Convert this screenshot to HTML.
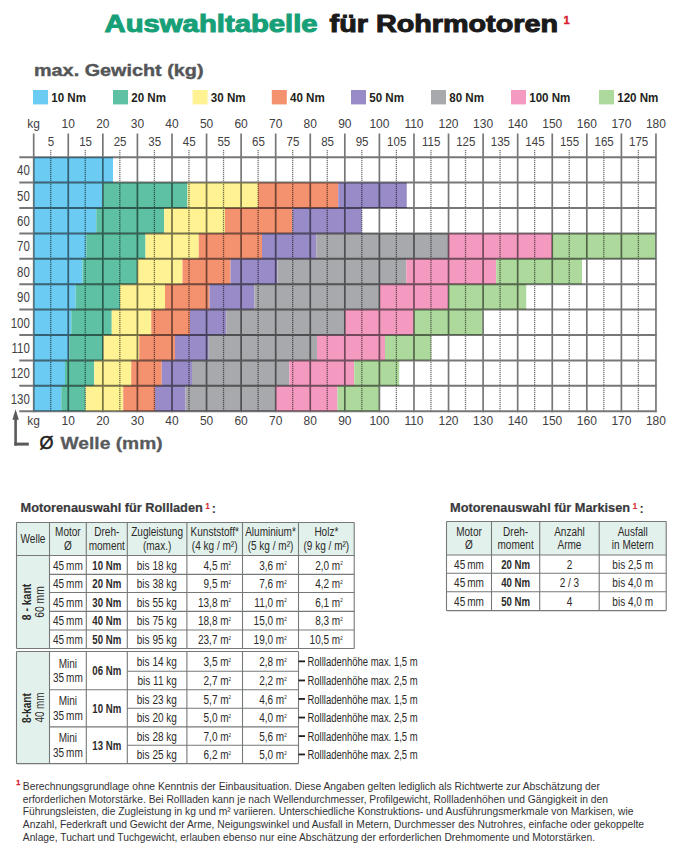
<!DOCTYPE html>
<html><head><meta charset="utf-8"><style>
html,body{margin:0;padding:0;background:#fff;}
svg{display:block;font-family:"Liberation Sans",sans-serif;}
</style></head><body>
<svg width="680" height="867" viewBox="0 0 680 867">
<rect width="680" height="867" fill="#fff"/>
<text x="104.60" y="31.70" font-size="23.59" textLength="212.99" lengthAdjust="spacingAndGlyphs" font-weight="bold" fill="#17a078" stroke="#17a078" stroke-width="1.0">Auswahltabelle</text>
<text x="329.60" y="31.70" font-size="23.59" textLength="228.40" lengthAdjust="spacingAndGlyphs" font-weight="bold" fill="#1a1a1a" stroke="#1a1a1a" stroke-width="1.0">für Rohrmotoren</text>
<text x="563.59" y="23.70" font-size="11.20" textLength="6.23" lengthAdjust="spacingAndGlyphs" font-weight="bold" fill="#d6202f" stroke="#d6202f" stroke-width="0.4">1</text>
<text x="34.00" y="76.00" font-size="17.10" textLength="169.49" lengthAdjust="spacingAndGlyphs" font-weight="bold" fill="#545557" stroke="#545557" stroke-width="0.4">max. Gewicht (kg)</text>
<rect x="33.00" y="90.00" width="15.00" height="14.40" fill="#6ccbf2"/>
<text x="51.20" y="101.90" font-size="12.60" textLength="34.79" lengthAdjust="spacingAndGlyphs" font-weight="bold" fill="#231f20">10 Nm</text>
<rect x="113.00" y="90.00" width="15.00" height="14.40" fill="#5ec1a3"/>
<text x="131.20" y="101.90" font-size="12.60" textLength="34.79" lengthAdjust="spacingAndGlyphs" font-weight="bold" fill="#231f20">20 Nm</text>
<rect x="192.60" y="90.00" width="15.00" height="14.40" fill="#fef292"/>
<text x="210.80" y="101.90" font-size="12.60" textLength="34.79" lengthAdjust="spacingAndGlyphs" font-weight="bold" fill="#231f20">30 Nm</text>
<rect x="271.80" y="90.00" width="15.00" height="14.40" fill="#f4916f"/>
<text x="290.00" y="101.90" font-size="12.60" textLength="34.79" lengthAdjust="spacingAndGlyphs" font-weight="bold" fill="#231f20">40 Nm</text>
<rect x="351.00" y="90.00" width="15.00" height="14.40" fill="#988bc7"/>
<text x="369.20" y="101.90" font-size="12.60" textLength="34.79" lengthAdjust="spacingAndGlyphs" font-weight="bold" fill="#231f20">50 Nm</text>
<rect x="431.00" y="90.00" width="15.00" height="14.40" fill="#a8a9ac"/>
<text x="449.20" y="101.90" font-size="12.60" textLength="34.79" lengthAdjust="spacingAndGlyphs" font-weight="bold" fill="#231f20">80 Nm</text>
<rect x="511.00" y="90.00" width="15.00" height="14.40" fill="#f49ac0"/>
<text x="529.20" y="101.90" font-size="12.60" textLength="41.24" lengthAdjust="spacingAndGlyphs" font-weight="bold" fill="#231f20">100 Nm</text>
<rect x="599.00" y="90.00" width="15.00" height="14.40" fill="#aed99d"/>
<text x="617.20" y="101.90" font-size="12.60" textLength="41.24" lengthAdjust="spacingAndGlyphs" font-weight="bold" fill="#231f20">120 Nm</text>
<rect x="33.70" y="157.20" width="79.30" height="25.40" fill="#6ccbf2"/>
<rect x="33.70" y="182.60" width="68.80" height="25.40" fill="#6ccbf2"/>
<rect x="102.50" y="182.60" width="85.00" height="25.40" fill="#5ec1a3"/>
<rect x="187.50" y="182.60" width="70.50" height="25.40" fill="#fef292"/>
<rect x="258.00" y="182.60" width="80.25" height="25.40" fill="#f4916f"/>
<rect x="338.25" y="182.60" width="68.50" height="25.40" fill="#988bc7"/>
<rect x="33.70" y="208.00" width="62.55" height="25.40" fill="#6ccbf2"/>
<rect x="96.25" y="208.00" width="68.00" height="25.40" fill="#5ec1a3"/>
<rect x="164.25" y="208.00" width="60.75" height="25.40" fill="#fef292"/>
<rect x="225.00" y="208.00" width="67.50" height="25.40" fill="#f4916f"/>
<rect x="292.50" y="208.00" width="69.25" height="25.40" fill="#988bc7"/>
<rect x="33.70" y="233.40" width="52.55" height="25.40" fill="#6ccbf2"/>
<rect x="86.25" y="233.40" width="59.25" height="25.40" fill="#5ec1a3"/>
<rect x="145.50" y="233.40" width="53.25" height="25.40" fill="#fef292"/>
<rect x="198.75" y="233.40" width="63.25" height="25.40" fill="#f4916f"/>
<rect x="262.00" y="233.40" width="54.25" height="25.40" fill="#988bc7"/>
<rect x="316.25" y="233.40" width="131.75" height="25.40" fill="#a8a9ac"/>
<rect x="448.00" y="233.40" width="104.00" height="25.40" fill="#f49ac0"/>
<rect x="552.00" y="233.40" width="103.50" height="25.40" fill="#aed99d"/>
<rect x="33.70" y="258.80" width="48.80" height="25.40" fill="#6ccbf2"/>
<rect x="82.50" y="258.80" width="55.00" height="25.40" fill="#5ec1a3"/>
<rect x="137.50" y="258.80" width="45.00" height="25.40" fill="#fef292"/>
<rect x="182.50" y="258.80" width="48.00" height="25.40" fill="#f4916f"/>
<rect x="230.50" y="258.80" width="47.00" height="25.40" fill="#988bc7"/>
<rect x="277.50" y="258.80" width="128.75" height="25.40" fill="#a8a9ac"/>
<rect x="406.25" y="258.80" width="90.00" height="25.40" fill="#f49ac0"/>
<rect x="496.25" y="258.80" width="85.75" height="25.40" fill="#aed99d"/>
<rect x="33.70" y="284.20" width="42.05" height="25.40" fill="#6ccbf2"/>
<rect x="75.75" y="284.20" width="44.25" height="25.40" fill="#5ec1a3"/>
<rect x="120.00" y="284.20" width="45.00" height="25.40" fill="#fef292"/>
<rect x="165.00" y="284.20" width="44.50" height="25.40" fill="#f4916f"/>
<rect x="209.50" y="284.20" width="45.00" height="25.40" fill="#988bc7"/>
<rect x="254.50" y="284.20" width="125.50" height="25.40" fill="#a8a9ac"/>
<rect x="380.00" y="284.20" width="68.00" height="25.40" fill="#f49ac0"/>
<rect x="448.00" y="284.20" width="78.25" height="25.40" fill="#aed99d"/>
<rect x="33.70" y="309.60" width="37.55" height="25.40" fill="#6ccbf2"/>
<rect x="71.25" y="309.60" width="40.50" height="25.40" fill="#5ec1a3"/>
<rect x="111.75" y="309.60" width="39.50" height="25.40" fill="#fef292"/>
<rect x="151.25" y="309.60" width="38.75" height="25.40" fill="#f4916f"/>
<rect x="190.00" y="309.60" width="36.25" height="25.40" fill="#988bc7"/>
<rect x="226.25" y="309.60" width="118.75" height="25.40" fill="#a8a9ac"/>
<rect x="345.00" y="309.60" width="68.75" height="25.40" fill="#f49ac0"/>
<rect x="413.75" y="309.60" width="68.75" height="25.40" fill="#aed99d"/>
<rect x="33.70" y="335.00" width="35.55" height="25.40" fill="#6ccbf2"/>
<rect x="69.25" y="335.00" width="34.00" height="25.40" fill="#5ec1a3"/>
<rect x="103.25" y="335.00" width="36.00" height="25.40" fill="#fef292"/>
<rect x="139.25" y="335.00" width="35.75" height="25.40" fill="#f4916f"/>
<rect x="175.00" y="335.00" width="33.75" height="25.40" fill="#988bc7"/>
<rect x="208.75" y="335.00" width="108.25" height="25.40" fill="#a8a9ac"/>
<rect x="317.00" y="335.00" width="68.00" height="25.40" fill="#f49ac0"/>
<rect x="385.00" y="335.00" width="46.25" height="25.40" fill="#aed99d"/>
<rect x="33.70" y="360.40" width="31.30" height="25.40" fill="#6ccbf2"/>
<rect x="65.00" y="360.40" width="29.25" height="25.40" fill="#5ec1a3"/>
<rect x="94.25" y="360.40" width="37.00" height="25.40" fill="#fef292"/>
<rect x="131.25" y="360.40" width="30.50" height="25.40" fill="#f4916f"/>
<rect x="161.75" y="360.40" width="30.25" height="25.40" fill="#988bc7"/>
<rect x="192.00" y="360.40" width="97.25" height="25.40" fill="#a8a9ac"/>
<rect x="289.25" y="360.40" width="65.00" height="25.40" fill="#f49ac0"/>
<rect x="354.25" y="360.40" width="45.00" height="25.40" fill="#aed99d"/>
<rect x="33.70" y="385.80" width="27.55" height="25.40" fill="#6ccbf2"/>
<rect x="61.25" y="385.80" width="24.25" height="25.40" fill="#5ec1a3"/>
<rect x="85.50" y="385.80" width="37.75" height="25.40" fill="#fef292"/>
<rect x="123.25" y="385.80" width="31.75" height="25.40" fill="#f4916f"/>
<rect x="155.00" y="385.80" width="30.50" height="25.40" fill="#988bc7"/>
<rect x="185.50" y="385.80" width="90.25" height="25.40" fill="#a8a9ac"/>
<rect x="275.75" y="385.80" width="61.75" height="25.40" fill="#f49ac0"/>
<rect x="337.50" y="385.80" width="41.75" height="25.40" fill="#aed99d"/>
<g opacity="0.53">
<line x1="50.69" y1="150.00" x2="50.69" y2="411.20" stroke="#000" stroke-width="1.3" stroke-dasharray="1.2 0.8"/>
<line x1="85.26" y1="150.00" x2="85.26" y2="411.20" stroke="#000" stroke-width="1.3" stroke-dasharray="1.2 0.8"/>
<line x1="119.83" y1="150.00" x2="119.83" y2="411.20" stroke="#000" stroke-width="1.3" stroke-dasharray="1.2 0.8"/>
<line x1="154.39" y1="150.00" x2="154.39" y2="411.20" stroke="#000" stroke-width="1.3" stroke-dasharray="1.2 0.8"/>
<line x1="188.96" y1="150.00" x2="188.96" y2="411.20" stroke="#000" stroke-width="1.3" stroke-dasharray="1.2 0.8"/>
<line x1="223.53" y1="150.00" x2="223.53" y2="411.20" stroke="#000" stroke-width="1.3" stroke-dasharray="1.2 0.8"/>
<line x1="258.11" y1="150.00" x2="258.11" y2="411.20" stroke="#000" stroke-width="1.3" stroke-dasharray="1.2 0.8"/>
<line x1="292.67" y1="150.00" x2="292.67" y2="411.20" stroke="#000" stroke-width="1.3" stroke-dasharray="1.2 0.8"/>
<line x1="327.25" y1="150.00" x2="327.25" y2="411.20" stroke="#000" stroke-width="1.3" stroke-dasharray="1.2 0.8"/>
<line x1="361.81" y1="150.00" x2="361.81" y2="411.20" stroke="#000" stroke-width="1.3" stroke-dasharray="1.2 0.8"/>
<line x1="396.38" y1="150.00" x2="396.38" y2="411.20" stroke="#000" stroke-width="1.3" stroke-dasharray="1.2 0.8"/>
<line x1="430.95" y1="150.00" x2="430.95" y2="411.20" stroke="#000" stroke-width="1.3" stroke-dasharray="1.2 0.8"/>
<line x1="465.52" y1="150.00" x2="465.52" y2="411.20" stroke="#000" stroke-width="1.3" stroke-dasharray="1.2 0.8"/>
<line x1="500.09" y1="150.00" x2="500.09" y2="411.20" stroke="#000" stroke-width="1.3" stroke-dasharray="1.2 0.8"/>
<line x1="534.67" y1="150.00" x2="534.67" y2="411.20" stroke="#000" stroke-width="1.3" stroke-dasharray="1.2 0.8"/>
<line x1="569.24" y1="150.00" x2="569.24" y2="411.20" stroke="#000" stroke-width="1.3" stroke-dasharray="1.2 0.8"/>
<line x1="603.81" y1="150.00" x2="603.81" y2="411.20" stroke="#000" stroke-width="1.3" stroke-dasharray="1.2 0.8"/>
<line x1="638.38" y1="150.00" x2="638.38" y2="411.20" stroke="#000" stroke-width="1.3" stroke-dasharray="1.2 0.8"/>
<line x1="19.30" y1="157.20" x2="656.50" y2="157.20" stroke="#000" stroke-width="2.0"/>
<line x1="19.30" y1="182.60" x2="656.50" y2="182.60" stroke="#000" stroke-width="2.0"/>
<line x1="19.30" y1="208.00" x2="656.50" y2="208.00" stroke="#000" stroke-width="2.0"/>
<line x1="19.30" y1="233.40" x2="656.50" y2="233.40" stroke="#000" stroke-width="2.0"/>
<line x1="19.30" y1="258.80" x2="656.50" y2="258.80" stroke="#000" stroke-width="2.0"/>
<line x1="19.30" y1="284.20" x2="656.50" y2="284.20" stroke="#000" stroke-width="2.0"/>
<line x1="19.30" y1="309.60" x2="656.50" y2="309.60" stroke="#000" stroke-width="2.0"/>
<line x1="19.30" y1="335.00" x2="656.50" y2="335.00" stroke="#000" stroke-width="2.0"/>
<line x1="19.30" y1="360.40" x2="656.50" y2="360.40" stroke="#000" stroke-width="2.0"/>
<line x1="19.30" y1="385.80" x2="656.50" y2="385.80" stroke="#000" stroke-width="2.0"/>
<line x1="19.30" y1="411.20" x2="656.50" y2="411.20" stroke="#000" stroke-width="2.0"/>
<line x1="33.70" y1="133.50" x2="33.70" y2="412.20" stroke="#000" stroke-width="1.7"/>
<line x1="68.27" y1="133.50" x2="68.27" y2="412.20" stroke="#000" stroke-width="1.7"/>
<line x1="102.84" y1="133.50" x2="102.84" y2="412.20" stroke="#000" stroke-width="1.7"/>
<line x1="137.41" y1="133.50" x2="137.41" y2="412.20" stroke="#000" stroke-width="1.7"/>
<line x1="171.98" y1="133.50" x2="171.98" y2="412.20" stroke="#000" stroke-width="1.7"/>
<line x1="206.55" y1="133.50" x2="206.55" y2="412.20" stroke="#000" stroke-width="1.7"/>
<line x1="241.12" y1="133.50" x2="241.12" y2="412.20" stroke="#000" stroke-width="1.7"/>
<line x1="275.69" y1="133.50" x2="275.69" y2="412.20" stroke="#000" stroke-width="1.7"/>
<line x1="310.26" y1="133.50" x2="310.26" y2="412.20" stroke="#000" stroke-width="1.7"/>
<line x1="344.83" y1="133.50" x2="344.83" y2="412.20" stroke="#000" stroke-width="1.7"/>
<line x1="379.40" y1="133.50" x2="379.40" y2="412.20" stroke="#000" stroke-width="1.7"/>
<line x1="413.97" y1="133.50" x2="413.97" y2="412.20" stroke="#000" stroke-width="1.7"/>
<line x1="448.54" y1="133.50" x2="448.54" y2="412.20" stroke="#000" stroke-width="1.7"/>
<line x1="483.11" y1="133.50" x2="483.11" y2="412.20" stroke="#000" stroke-width="1.7"/>
<line x1="517.68" y1="133.50" x2="517.68" y2="412.20" stroke="#000" stroke-width="1.7"/>
<line x1="552.25" y1="133.50" x2="552.25" y2="412.20" stroke="#000" stroke-width="1.7"/>
<line x1="586.82" y1="133.50" x2="586.82" y2="412.20" stroke="#000" stroke-width="1.7"/>
<line x1="621.39" y1="133.50" x2="621.39" y2="412.20" stroke="#000" stroke-width="1.7"/>
<line x1="655.96" y1="133.50" x2="655.96" y2="412.20" stroke="#000" stroke-width="1.7"/>
</g>
<text x="27.37" y="128.00" font-size="12.90" textLength="12.67" lengthAdjust="spacingAndGlyphs" fill="#414042">kg</text>
<text x="27.37" y="425.00" font-size="12.90" textLength="12.67" lengthAdjust="spacingAndGlyphs" fill="#414042">kg</text>
<text x="61.60" y="128.00" font-size="12.90" textLength="13.34" lengthAdjust="spacingAndGlyphs" fill="#414042">10</text>
<text x="61.60" y="425.00" font-size="12.90" textLength="13.34" lengthAdjust="spacingAndGlyphs" fill="#414042">10</text>
<text x="96.17" y="128.00" font-size="12.90" textLength="13.34" lengthAdjust="spacingAndGlyphs" fill="#414042">20</text>
<text x="96.17" y="425.00" font-size="12.90" textLength="13.34" lengthAdjust="spacingAndGlyphs" fill="#414042">20</text>
<text x="130.74" y="128.00" font-size="12.90" textLength="13.34" lengthAdjust="spacingAndGlyphs" fill="#414042">30</text>
<text x="130.74" y="425.00" font-size="12.90" textLength="13.34" lengthAdjust="spacingAndGlyphs" fill="#414042">30</text>
<text x="165.31" y="128.00" font-size="12.90" textLength="13.34" lengthAdjust="spacingAndGlyphs" fill="#414042">40</text>
<text x="165.31" y="425.00" font-size="12.90" textLength="13.34" lengthAdjust="spacingAndGlyphs" fill="#414042">40</text>
<text x="199.88" y="128.00" font-size="12.90" textLength="13.34" lengthAdjust="spacingAndGlyphs" fill="#414042">50</text>
<text x="199.88" y="425.00" font-size="12.90" textLength="13.34" lengthAdjust="spacingAndGlyphs" fill="#414042">50</text>
<text x="234.45" y="128.00" font-size="12.90" textLength="13.34" lengthAdjust="spacingAndGlyphs" fill="#414042">60</text>
<text x="234.45" y="425.00" font-size="12.90" textLength="13.34" lengthAdjust="spacingAndGlyphs" fill="#414042">60</text>
<text x="269.02" y="128.00" font-size="12.90" textLength="13.34" lengthAdjust="spacingAndGlyphs" fill="#414042">70</text>
<text x="269.02" y="425.00" font-size="12.90" textLength="13.34" lengthAdjust="spacingAndGlyphs" fill="#414042">70</text>
<text x="303.59" y="128.00" font-size="12.90" textLength="13.34" lengthAdjust="spacingAndGlyphs" fill="#414042">80</text>
<text x="303.59" y="425.00" font-size="12.90" textLength="13.34" lengthAdjust="spacingAndGlyphs" fill="#414042">80</text>
<text x="338.16" y="128.00" font-size="12.90" textLength="13.34" lengthAdjust="spacingAndGlyphs" fill="#414042">90</text>
<text x="338.16" y="425.00" font-size="12.90" textLength="13.34" lengthAdjust="spacingAndGlyphs" fill="#414042">90</text>
<text x="369.39" y="128.00" font-size="12.90" textLength="20.02" lengthAdjust="spacingAndGlyphs" fill="#414042">100</text>
<text x="369.39" y="425.00" font-size="12.90" textLength="20.02" lengthAdjust="spacingAndGlyphs" fill="#414042">100</text>
<text x="404.41" y="128.00" font-size="12.90" textLength="19.13" lengthAdjust="spacingAndGlyphs" fill="#414042">110</text>
<text x="404.41" y="425.00" font-size="12.90" textLength="19.13" lengthAdjust="spacingAndGlyphs" fill="#414042">110</text>
<text x="438.53" y="128.00" font-size="12.90" textLength="20.02" lengthAdjust="spacingAndGlyphs" fill="#414042">120</text>
<text x="438.53" y="425.00" font-size="12.90" textLength="20.02" lengthAdjust="spacingAndGlyphs" fill="#414042">120</text>
<text x="473.10" y="128.00" font-size="12.90" textLength="20.02" lengthAdjust="spacingAndGlyphs" fill="#414042">130</text>
<text x="473.10" y="425.00" font-size="12.90" textLength="20.02" lengthAdjust="spacingAndGlyphs" fill="#414042">130</text>
<text x="507.67" y="128.00" font-size="12.90" textLength="20.02" lengthAdjust="spacingAndGlyphs" fill="#414042">140</text>
<text x="507.67" y="425.00" font-size="12.90" textLength="20.02" lengthAdjust="spacingAndGlyphs" fill="#414042">140</text>
<text x="542.24" y="128.00" font-size="12.90" textLength="20.02" lengthAdjust="spacingAndGlyphs" fill="#414042">150</text>
<text x="542.24" y="425.00" font-size="12.90" textLength="20.02" lengthAdjust="spacingAndGlyphs" fill="#414042">150</text>
<text x="576.81" y="128.00" font-size="12.90" textLength="20.02" lengthAdjust="spacingAndGlyphs" fill="#414042">160</text>
<text x="576.81" y="425.00" font-size="12.90" textLength="20.02" lengthAdjust="spacingAndGlyphs" fill="#414042">160</text>
<text x="611.38" y="128.00" font-size="12.90" textLength="20.02" lengthAdjust="spacingAndGlyphs" fill="#414042">170</text>
<text x="611.38" y="425.00" font-size="12.90" textLength="20.02" lengthAdjust="spacingAndGlyphs" fill="#414042">170</text>
<text x="645.95" y="128.00" font-size="12.90" textLength="20.02" lengthAdjust="spacingAndGlyphs" fill="#414042">180</text>
<text x="645.95" y="425.00" font-size="12.90" textLength="20.02" lengthAdjust="spacingAndGlyphs" fill="#414042">180</text>
<text x="47.78" y="145.70" font-size="12.40" textLength="6.41" lengthAdjust="spacingAndGlyphs" fill="#414042">5</text>
<text x="79.14" y="145.70" font-size="12.40" textLength="12.83" lengthAdjust="spacingAndGlyphs" fill="#414042">15</text>
<text x="113.71" y="145.70" font-size="12.40" textLength="12.83" lengthAdjust="spacingAndGlyphs" fill="#414042">25</text>
<text x="148.28" y="145.70" font-size="12.40" textLength="12.83" lengthAdjust="spacingAndGlyphs" fill="#414042">35</text>
<text x="182.85" y="145.70" font-size="12.40" textLength="12.83" lengthAdjust="spacingAndGlyphs" fill="#414042">45</text>
<text x="217.42" y="145.70" font-size="12.40" textLength="12.83" lengthAdjust="spacingAndGlyphs" fill="#414042">55</text>
<text x="251.99" y="145.70" font-size="12.40" textLength="12.83" lengthAdjust="spacingAndGlyphs" fill="#414042">65</text>
<text x="286.56" y="145.70" font-size="12.40" textLength="12.83" lengthAdjust="spacingAndGlyphs" fill="#414042">75</text>
<text x="321.13" y="145.70" font-size="12.40" textLength="12.83" lengthAdjust="spacingAndGlyphs" fill="#414042">85</text>
<text x="355.70" y="145.70" font-size="12.40" textLength="12.83" lengthAdjust="spacingAndGlyphs" fill="#414042">95</text>
<text x="387.07" y="145.70" font-size="12.40" textLength="19.24" lengthAdjust="spacingAndGlyphs" fill="#414042">105</text>
<text x="422.06" y="145.70" font-size="12.40" textLength="18.38" lengthAdjust="spacingAndGlyphs" fill="#414042">115</text>
<text x="456.21" y="145.70" font-size="12.40" textLength="19.24" lengthAdjust="spacingAndGlyphs" fill="#414042">125</text>
<text x="490.78" y="145.70" font-size="12.40" textLength="19.24" lengthAdjust="spacingAndGlyphs" fill="#414042">135</text>
<text x="525.35" y="145.70" font-size="12.40" textLength="19.24" lengthAdjust="spacingAndGlyphs" fill="#414042">145</text>
<text x="559.92" y="145.70" font-size="12.40" textLength="19.24" lengthAdjust="spacingAndGlyphs" fill="#414042">155</text>
<text x="594.49" y="145.70" font-size="12.40" textLength="19.24" lengthAdjust="spacingAndGlyphs" fill="#414042">165</text>
<text x="629.06" y="145.70" font-size="12.40" textLength="19.24" lengthAdjust="spacingAndGlyphs" fill="#414042">175</text>
<text x="17.06" y="175.10" font-size="13.80" textLength="12.74" lengthAdjust="spacingAndGlyphs" fill="#414042">40</text>
<text x="17.06" y="200.50" font-size="13.80" textLength="12.74" lengthAdjust="spacingAndGlyphs" fill="#414042">50</text>
<text x="17.06" y="225.90" font-size="13.80" textLength="12.74" lengthAdjust="spacingAndGlyphs" fill="#414042">60</text>
<text x="17.06" y="251.30" font-size="13.80" textLength="12.74" lengthAdjust="spacingAndGlyphs" fill="#414042">70</text>
<text x="17.06" y="276.70" font-size="13.80" textLength="12.74" lengthAdjust="spacingAndGlyphs" fill="#414042">80</text>
<text x="17.06" y="302.10" font-size="13.80" textLength="12.74" lengthAdjust="spacingAndGlyphs" fill="#414042">90</text>
<text x="10.69" y="327.50" font-size="13.80" textLength="19.11" lengthAdjust="spacingAndGlyphs" fill="#414042">100</text>
<text x="11.54" y="352.90" font-size="13.80" textLength="18.26" lengthAdjust="spacingAndGlyphs" fill="#414042">110</text>
<text x="10.69" y="378.30" font-size="13.80" textLength="19.11" lengthAdjust="spacingAndGlyphs" fill="#414042">120</text>
<text x="10.69" y="403.70" font-size="13.80" textLength="19.11" lengthAdjust="spacingAndGlyphs" fill="#414042">130</text>
<path d="M15.6 409.3 L12.4 419.8 L18.8 419.8 Z" fill="#58595b"/>
<line x1="15.60" y1="418.00" x2="15.60" y2="445.60" stroke="#58595b" stroke-width="2.6"/>
<line x1="14.30" y1="444.10" x2="28.80" y2="444.10" stroke="#58595b" stroke-width="3.0"/>
<text x="39.50" y="449.40" font-size="18.72" textLength="14.00" lengthAdjust="spacingAndGlyphs" fill="#231f20" stroke="#231f20" stroke-width="0.5">Ø</text>
<text x="60.60" y="449.40" font-size="17.24" textLength="102.00" lengthAdjust="spacingAndGlyphs" font-weight="bold" fill="#58595b" stroke="#58595b" stroke-width="0.3">Welle (mm)</text>
<text x="20.60" y="512.40" font-size="12.70" textLength="182.20" lengthAdjust="spacingAndGlyphs" font-weight="bold" fill="#3a3a3c" stroke="#3a3a3c" stroke-width="0.2">Motorenauswahl für Rollladen</text>
<text x="205.47" y="508.80" font-size="9.00" textLength="4.25" lengthAdjust="spacingAndGlyphs" font-weight="bold" fill="#d92530" stroke="#d92530" stroke-width="0.2">1</text>
<text x="211.79" y="512.50" font-size="12.70" textLength="4.23" lengthAdjust="spacingAndGlyphs" font-weight="bold" fill="#3a3a3c">:</text>
<text x="450.00" y="512.40" font-size="12.70" textLength="180.10" lengthAdjust="spacingAndGlyphs" font-weight="bold" fill="#3a3a3c" stroke="#3a3a3c" stroke-width="0.2">Motorenauswahl für Markisen</text>
<text x="632.73" y="508.60" font-size="9.20" textLength="4.35" lengthAdjust="spacingAndGlyphs" font-weight="bold" fill="#d92530" stroke="#d92530" stroke-width="0.2">1</text>
<text x="639.49" y="512.60" font-size="12.70" textLength="4.23" lengthAdjust="spacingAndGlyphs" font-weight="bold" fill="#3a3a3c">:</text>
<rect x="16.50" y="522.50" width="337.70" height="33.00" fill="#e3f1ec"/>
<rect x="16.50" y="555.50" width="33.00" height="93.00" fill="#e3f1ec"/>
<rect x="16.50" y="651.50" width="33.00" height="112.10" fill="#e3f1ec"/>
<line x1="16.50" y1="522.50" x2="354.20" y2="522.50" stroke="#767978" stroke-width="1.1"/>
<line x1="16.50" y1="555.50" x2="354.20" y2="555.50" stroke="#767978" stroke-width="1.1"/>
<line x1="49.50" y1="574.40" x2="354.20" y2="574.40" stroke="#767978" stroke-width="1.1"/>
<line x1="49.50" y1="592.50" x2="354.20" y2="592.50" stroke="#767978" stroke-width="1.1"/>
<line x1="49.50" y1="611.40" x2="354.20" y2="611.40" stroke="#767978" stroke-width="1.1"/>
<line x1="49.50" y1="630.00" x2="354.20" y2="630.00" stroke="#767978" stroke-width="1.1"/>
<line x1="49.50" y1="648.50" x2="354.20" y2="648.50" stroke="#767978" stroke-width="1.1"/>
<line x1="16.50" y1="648.50" x2="49.50" y2="648.50" stroke="#767978" stroke-width="1.1"/>
<line x1="16.50" y1="522.50" x2="16.50" y2="648.50" stroke="#767978" stroke-width="1.1"/>
<line x1="49.50" y1="522.50" x2="49.50" y2="648.50" stroke="#767978" stroke-width="1.1"/>
<line x1="86.30" y1="522.50" x2="86.30" y2="648.50" stroke="#767978" stroke-width="1.1"/>
<line x1="127.30" y1="522.50" x2="127.30" y2="648.50" stroke="#767978" stroke-width="1.1"/>
<line x1="186.90" y1="522.50" x2="186.90" y2="648.50" stroke="#767978" stroke-width="1.1"/>
<line x1="242.50" y1="522.50" x2="242.50" y2="648.50" stroke="#767978" stroke-width="1.1"/>
<line x1="298.50" y1="522.50" x2="298.50" y2="648.50" stroke="#767978" stroke-width="1.1"/>
<line x1="354.20" y1="522.50" x2="354.20" y2="648.50" stroke="#767978" stroke-width="1.1"/>
<line x1="16.50" y1="651.50" x2="298.50" y2="651.50" stroke="#767978" stroke-width="1.1"/>
<line x1="16.50" y1="763.60" x2="298.50" y2="763.60" stroke="#767978" stroke-width="1.1"/>
<line x1="127.30" y1="671.20" x2="298.50" y2="671.20" stroke="#767978" stroke-width="1.1"/>
<line x1="49.50" y1="689.70" x2="298.50" y2="689.70" stroke="#767978" stroke-width="1.1"/>
<line x1="127.30" y1="708.20" x2="298.50" y2="708.20" stroke="#767978" stroke-width="1.1"/>
<line x1="49.50" y1="726.90" x2="298.50" y2="726.90" stroke="#767978" stroke-width="1.1"/>
<line x1="127.30" y1="745.30" x2="298.50" y2="745.30" stroke="#767978" stroke-width="1.1"/>
<line x1="16.50" y1="651.50" x2="16.50" y2="763.60" stroke="#767978" stroke-width="1.1"/>
<line x1="49.50" y1="651.50" x2="49.50" y2="763.60" stroke="#767978" stroke-width="1.1"/>
<line x1="86.30" y1="651.50" x2="86.30" y2="763.60" stroke="#767978" stroke-width="1.1"/>
<line x1="127.30" y1="651.50" x2="127.30" y2="763.60" stroke="#767978" stroke-width="1.1"/>
<line x1="186.90" y1="651.50" x2="186.90" y2="763.60" stroke="#767978" stroke-width="1.1"/>
<line x1="242.50" y1="651.50" x2="242.50" y2="763.60" stroke="#767978" stroke-width="1.1"/>
<line x1="298.50" y1="651.50" x2="298.50" y2="763.60" stroke="#767978" stroke-width="1.1"/>
<text x="20.57" y="543.40" font-size="12.30" textLength="24.87" lengthAdjust="spacingAndGlyphs" fill="#2b2a29">Welle</text>
<text x="55.09" y="536.40" font-size="12.30" textLength="25.61" lengthAdjust="spacingAndGlyphs" fill="#2b2a29">Motor</text>
<text x="64.00" y="549.60" font-size="12.30" textLength="7.79" lengthAdjust="spacingAndGlyphs" fill="#2b2a29">Ø</text>
<text x="94.27" y="536.40" font-size="12.30" textLength="25.06" lengthAdjust="spacingAndGlyphs" fill="#2b2a29">Dreh-</text>
<text x="88.70" y="549.60" font-size="12.30" textLength="36.20" lengthAdjust="spacingAndGlyphs" fill="#2b2a29">moment</text>
<text x="131.20" y="536.40" font-size="12.30" textLength="51.80" lengthAdjust="spacingAndGlyphs" fill="#2b2a29">Zugleistung</text>
<text x="142.91" y="549.60" font-size="12.30" textLength="28.39" lengthAdjust="spacingAndGlyphs" fill="#2b2a29">(max.)</text>
<text x="190.56" y="536.40" font-size="12.30" textLength="48.28" lengthAdjust="spacingAndGlyphs" fill="#2b2a29">Kunststoff*</text>
<text x="191.87" y="549.60" font-size="12.30" textLength="45.65" lengthAdjust="spacingAndGlyphs" fill="#2b2a29">(4 kg / m²)</text>
<text x="245.16" y="536.40" font-size="12.30" textLength="50.67" lengthAdjust="spacingAndGlyphs" fill="#2b2a29">Aluminium*</text>
<text x="247.67" y="549.60" font-size="12.30" textLength="45.65" lengthAdjust="spacingAndGlyphs" fill="#2b2a29">(5 kg / m²)</text>
<text x="314.38" y="536.40" font-size="12.30" textLength="23.94" lengthAdjust="spacingAndGlyphs" fill="#2b2a29">Holz*</text>
<text x="303.52" y="549.60" font-size="12.30" textLength="45.65" lengthAdjust="spacingAndGlyphs" fill="#2b2a29">(9 kg / m²)</text>
<text x="52.98" y="569.65" font-size="12.30" textLength="29.85" lengthAdjust="spacingAndGlyphs" fill="#2b2a29">45 mm</text>
<text x="92.35" y="569.65" font-size="12.30" textLength="28.90" lengthAdjust="spacingAndGlyphs" font-weight="bold" fill="#2b2a29">10 Nm</text>
<text x="136.80" y="569.65" font-size="12.30" textLength="40.10" lengthAdjust="spacingAndGlyphs" fill="#2b2a29">bis 18 kg</text>
<text x="203.54" y="569.65" font-size="12.30" textLength="25.06" lengthAdjust="spacingAndGlyphs" fill="#2b2a29">4,5 m</text>
<text x="229.90" y="565.45" font-size="4.6" text-anchor="middle" fill="#2b2a29">2</text>
<text x="259.14" y="569.65" font-size="12.30" textLength="25.06" lengthAdjust="spacingAndGlyphs" fill="#2b2a29">3,6 m</text>
<text x="285.50" y="565.45" font-size="4.6" text-anchor="middle" fill="#2b2a29">2</text>
<text x="315.14" y="569.65" font-size="12.30" textLength="25.06" lengthAdjust="spacingAndGlyphs" fill="#2b2a29">2,0 m</text>
<text x="341.50" y="565.45" font-size="4.6" text-anchor="middle" fill="#2b2a29">2</text>
<text x="52.98" y="588.15" font-size="12.30" textLength="29.85" lengthAdjust="spacingAndGlyphs" fill="#2b2a29">45 mm</text>
<text x="92.35" y="588.15" font-size="12.30" textLength="28.90" lengthAdjust="spacingAndGlyphs" font-weight="bold" fill="#2b2a29">20 Nm</text>
<text x="136.80" y="588.15" font-size="12.30" textLength="40.10" lengthAdjust="spacingAndGlyphs" fill="#2b2a29">bis 38 kg</text>
<text x="203.54" y="588.15" font-size="12.30" textLength="25.06" lengthAdjust="spacingAndGlyphs" fill="#2b2a29">9,5 m</text>
<text x="229.90" y="583.95" font-size="4.6" text-anchor="middle" fill="#2b2a29">2</text>
<text x="259.14" y="588.15" font-size="12.30" textLength="25.06" lengthAdjust="spacingAndGlyphs" fill="#2b2a29">7,6 m</text>
<text x="285.50" y="583.95" font-size="4.6" text-anchor="middle" fill="#2b2a29">2</text>
<text x="315.14" y="588.15" font-size="12.30" textLength="25.06" lengthAdjust="spacingAndGlyphs" fill="#2b2a29">4,2 m</text>
<text x="341.50" y="583.95" font-size="4.6" text-anchor="middle" fill="#2b2a29">2</text>
<text x="52.98" y="606.65" font-size="12.30" textLength="29.85" lengthAdjust="spacingAndGlyphs" fill="#2b2a29">45 mm</text>
<text x="92.35" y="606.65" font-size="12.30" textLength="28.90" lengthAdjust="spacingAndGlyphs" font-weight="bold" fill="#2b2a29">30 Nm</text>
<text x="136.80" y="606.65" font-size="12.30" textLength="40.10" lengthAdjust="spacingAndGlyphs" fill="#2b2a29">bis 55 kg</text>
<text x="197.97" y="606.65" font-size="12.30" textLength="30.63" lengthAdjust="spacingAndGlyphs" fill="#2b2a29">13,8 m</text>
<text x="229.90" y="602.45" font-size="4.6" text-anchor="middle" fill="#2b2a29">2</text>
<text x="254.31" y="606.65" font-size="12.30" textLength="29.89" lengthAdjust="spacingAndGlyphs" fill="#2b2a29">11,0 m</text>
<text x="285.50" y="602.45" font-size="4.6" text-anchor="middle" fill="#2b2a29">2</text>
<text x="315.14" y="606.65" font-size="12.30" textLength="25.06" lengthAdjust="spacingAndGlyphs" fill="#2b2a29">6,1 m</text>
<text x="341.50" y="602.45" font-size="4.6" text-anchor="middle" fill="#2b2a29">2</text>
<text x="52.98" y="625.40" font-size="12.30" textLength="29.85" lengthAdjust="spacingAndGlyphs" fill="#2b2a29">45 mm</text>
<text x="92.35" y="625.40" font-size="12.30" textLength="28.90" lengthAdjust="spacingAndGlyphs" font-weight="bold" fill="#2b2a29">40 Nm</text>
<text x="136.80" y="625.40" font-size="12.30" textLength="40.10" lengthAdjust="spacingAndGlyphs" fill="#2b2a29">bis 75 kg</text>
<text x="197.97" y="625.40" font-size="12.30" textLength="30.63" lengthAdjust="spacingAndGlyphs" fill="#2b2a29">18,8 m</text>
<text x="229.90" y="621.20" font-size="4.6" text-anchor="middle" fill="#2b2a29">2</text>
<text x="253.57" y="625.40" font-size="12.30" textLength="30.63" lengthAdjust="spacingAndGlyphs" fill="#2b2a29">15,0 m</text>
<text x="285.50" y="621.20" font-size="4.6" text-anchor="middle" fill="#2b2a29">2</text>
<text x="315.14" y="625.40" font-size="12.30" textLength="25.06" lengthAdjust="spacingAndGlyphs" fill="#2b2a29">8,3 m</text>
<text x="341.50" y="621.20" font-size="4.6" text-anchor="middle" fill="#2b2a29">2</text>
<text x="52.98" y="643.95" font-size="12.30" textLength="29.85" lengthAdjust="spacingAndGlyphs" fill="#2b2a29">45 mm</text>
<text x="92.35" y="643.95" font-size="12.30" textLength="28.90" lengthAdjust="spacingAndGlyphs" font-weight="bold" fill="#2b2a29">50 Nm</text>
<text x="136.80" y="643.95" font-size="12.30" textLength="40.10" lengthAdjust="spacingAndGlyphs" fill="#2b2a29">bis 95 kg</text>
<text x="197.97" y="643.95" font-size="12.30" textLength="30.63" lengthAdjust="spacingAndGlyphs" fill="#2b2a29">23,7 m</text>
<text x="229.90" y="639.75" font-size="4.6" text-anchor="middle" fill="#2b2a29">2</text>
<text x="253.57" y="643.95" font-size="12.30" textLength="30.63" lengthAdjust="spacingAndGlyphs" fill="#2b2a29">19,0 m</text>
<text x="285.50" y="639.75" font-size="4.6" text-anchor="middle" fill="#2b2a29">2</text>
<text x="309.57" y="643.95" font-size="12.30" textLength="30.63" lengthAdjust="spacingAndGlyphs" fill="#2b2a29">10,5 m</text>
<text x="341.50" y="639.75" font-size="4.6" text-anchor="middle" fill="#2b2a29">2</text>
<g transform="translate(31.2 602.00) rotate(-90)">
<text x="-18.28" y="0.00" font-size="12.00" textLength="36.55" lengthAdjust="spacingAndGlyphs" font-weight="bold" fill="#2b2a29">8 - kant</text>
</g>
<g transform="translate(43.6 602.00) rotate(-90)">
<text x="-15.77" y="0.00" font-size="12.00" textLength="31.54" lengthAdjust="spacingAndGlyphs" fill="#2b2a29">60 mm</text>
</g>
<g transform="translate(31.0 708.05) rotate(-90)">
<text x="-15.02" y="0.00" font-size="12.00" textLength="30.04" lengthAdjust="spacingAndGlyphs" font-weight="bold" fill="#2b2a29">8-kant</text>
</g>
<g transform="translate(43.6 707.55) rotate(-90)">
<text x="-15.04" y="0.00" font-size="12.00" textLength="30.07" lengthAdjust="spacingAndGlyphs" fill="#2b2a29">40 mm</text>
</g>
<text x="58.71" y="667.70" font-size="12.30" textLength="18.37" lengthAdjust="spacingAndGlyphs" fill="#2b2a29">Mini</text>
<text x="52.98" y="682.10" font-size="12.30" textLength="29.85" lengthAdjust="spacingAndGlyphs" fill="#2b2a29">35 mm</text>
<text x="92.35" y="675.30" font-size="12.30" textLength="28.90" lengthAdjust="spacingAndGlyphs" font-weight="bold" fill="#2b2a29">06 Nm</text>
<text x="136.80" y="666.05" font-size="12.30" textLength="40.10" lengthAdjust="spacingAndGlyphs" fill="#2b2a29">bis 14 kg</text>
<text x="203.54" y="666.05" font-size="12.30" textLength="25.06" lengthAdjust="spacingAndGlyphs" fill="#2b2a29">3,5 m</text>
<text x="229.90" y="661.85" font-size="4.6" text-anchor="middle" fill="#2b2a29">2</text>
<text x="259.14" y="666.05" font-size="12.30" textLength="25.06" lengthAdjust="spacingAndGlyphs" fill="#2b2a29">2,8 m</text>
<text x="285.50" y="661.85" font-size="4.6" text-anchor="middle" fill="#2b2a29">2</text>
<line x1="298.50" y1="661.35" x2="305.00" y2="661.35" stroke="#231f20" stroke-width="1.8"/>
<text x="307.50" y="666.05" font-size="12.30" textLength="110.10" lengthAdjust="spacingAndGlyphs" fill="#2b2a29">Rollladenhöhe max. 1,5 m</text>
<text x="137.54" y="685.15" font-size="12.30" textLength="39.36" lengthAdjust="spacingAndGlyphs" fill="#2b2a29">bis 11 kg</text>
<text x="203.54" y="685.15" font-size="12.30" textLength="25.06" lengthAdjust="spacingAndGlyphs" fill="#2b2a29">2,7 m</text>
<text x="229.90" y="680.95" font-size="4.6" text-anchor="middle" fill="#2b2a29">2</text>
<text x="259.14" y="685.15" font-size="12.30" textLength="25.06" lengthAdjust="spacingAndGlyphs" fill="#2b2a29">2,2 m</text>
<text x="285.50" y="680.95" font-size="4.6" text-anchor="middle" fill="#2b2a29">2</text>
<line x1="298.50" y1="680.45" x2="305.00" y2="680.45" stroke="#231f20" stroke-width="1.8"/>
<text x="307.50" y="685.15" font-size="12.30" textLength="110.10" lengthAdjust="spacingAndGlyphs" fill="#2b2a29">Rollladenhöhe max. 2,5 m</text>
<text x="58.71" y="705.40" font-size="12.30" textLength="18.37" lengthAdjust="spacingAndGlyphs" fill="#2b2a29">Mini</text>
<text x="52.98" y="719.80" font-size="12.30" textLength="29.85" lengthAdjust="spacingAndGlyphs" fill="#2b2a29">35 mm</text>
<text x="92.35" y="713.00" font-size="12.30" textLength="28.90" lengthAdjust="spacingAndGlyphs" font-weight="bold" fill="#2b2a29">10 Nm</text>
<text x="136.80" y="703.65" font-size="12.30" textLength="40.10" lengthAdjust="spacingAndGlyphs" fill="#2b2a29">bis 23 kg</text>
<text x="203.54" y="703.65" font-size="12.30" textLength="25.06" lengthAdjust="spacingAndGlyphs" fill="#2b2a29">5,7 m</text>
<text x="229.90" y="699.45" font-size="4.6" text-anchor="middle" fill="#2b2a29">2</text>
<text x="259.14" y="703.65" font-size="12.30" textLength="25.06" lengthAdjust="spacingAndGlyphs" fill="#2b2a29">4,6 m</text>
<text x="285.50" y="699.45" font-size="4.6" text-anchor="middle" fill="#2b2a29">2</text>
<line x1="298.50" y1="698.95" x2="305.00" y2="698.95" stroke="#231f20" stroke-width="1.8"/>
<text x="307.50" y="703.65" font-size="12.30" textLength="110.10" lengthAdjust="spacingAndGlyphs" fill="#2b2a29">Rollladenhöhe max. 1,5 m</text>
<text x="136.80" y="722.25" font-size="12.30" textLength="40.10" lengthAdjust="spacingAndGlyphs" fill="#2b2a29">bis 20 kg</text>
<text x="203.54" y="722.25" font-size="12.30" textLength="25.06" lengthAdjust="spacingAndGlyphs" fill="#2b2a29">5,0 m</text>
<text x="229.90" y="718.05" font-size="4.6" text-anchor="middle" fill="#2b2a29">2</text>
<text x="259.14" y="722.25" font-size="12.30" textLength="25.06" lengthAdjust="spacingAndGlyphs" fill="#2b2a29">4,0 m</text>
<text x="285.50" y="718.05" font-size="4.6" text-anchor="middle" fill="#2b2a29">2</text>
<line x1="298.50" y1="717.55" x2="305.00" y2="717.55" stroke="#231f20" stroke-width="1.8"/>
<text x="307.50" y="722.25" font-size="12.30" textLength="110.10" lengthAdjust="spacingAndGlyphs" fill="#2b2a29">Rollladenhöhe max. 2,5 m</text>
<text x="58.71" y="742.35" font-size="12.30" textLength="18.37" lengthAdjust="spacingAndGlyphs" fill="#2b2a29">Mini</text>
<text x="52.98" y="756.75" font-size="12.30" textLength="29.85" lengthAdjust="spacingAndGlyphs" fill="#2b2a29">35 mm</text>
<text x="92.35" y="749.95" font-size="12.30" textLength="28.90" lengthAdjust="spacingAndGlyphs" font-weight="bold" fill="#2b2a29">13 Nm</text>
<text x="136.80" y="740.80" font-size="12.30" textLength="40.10" lengthAdjust="spacingAndGlyphs" fill="#2b2a29">bis 28 kg</text>
<text x="203.54" y="740.80" font-size="12.30" textLength="25.06" lengthAdjust="spacingAndGlyphs" fill="#2b2a29">7,0 m</text>
<text x="229.90" y="736.60" font-size="4.6" text-anchor="middle" fill="#2b2a29">2</text>
<text x="259.14" y="740.80" font-size="12.30" textLength="25.06" lengthAdjust="spacingAndGlyphs" fill="#2b2a29">5,6 m</text>
<text x="285.50" y="736.60" font-size="4.6" text-anchor="middle" fill="#2b2a29">2</text>
<line x1="298.50" y1="736.10" x2="305.00" y2="736.10" stroke="#231f20" stroke-width="1.8"/>
<text x="307.50" y="740.80" font-size="12.30" textLength="110.10" lengthAdjust="spacingAndGlyphs" fill="#2b2a29">Rollladenhöhe max. 1,5 m</text>
<text x="136.80" y="759.15" font-size="12.30" textLength="40.10" lengthAdjust="spacingAndGlyphs" fill="#2b2a29">bis 25 kg</text>
<text x="203.54" y="759.15" font-size="12.30" textLength="25.06" lengthAdjust="spacingAndGlyphs" fill="#2b2a29">6,2 m</text>
<text x="229.90" y="754.95" font-size="4.6" text-anchor="middle" fill="#2b2a29">2</text>
<text x="259.14" y="759.15" font-size="12.30" textLength="25.06" lengthAdjust="spacingAndGlyphs" fill="#2b2a29">5,0 m</text>
<text x="285.50" y="754.95" font-size="4.6" text-anchor="middle" fill="#2b2a29">2</text>
<line x1="298.50" y1="754.45" x2="305.00" y2="754.45" stroke="#231f20" stroke-width="1.8"/>
<text x="307.50" y="759.15" font-size="12.30" textLength="110.10" lengthAdjust="spacingAndGlyphs" fill="#2b2a29">Rollladenhöhe max. 2,5 m</text>
<rect x="446.50" y="521.50" width="219.70" height="33.50" fill="#e3f1ec"/>
<line x1="446.50" y1="521.50" x2="666.20" y2="521.50" stroke="#767978" stroke-width="1.1"/>
<line x1="446.50" y1="555.00" x2="666.20" y2="555.00" stroke="#767978" stroke-width="1.1"/>
<line x1="446.50" y1="573.20" x2="666.20" y2="573.20" stroke="#767978" stroke-width="1.1"/>
<line x1="446.50" y1="591.70" x2="666.20" y2="591.70" stroke="#767978" stroke-width="1.1"/>
<line x1="446.50" y1="610.60" x2="666.20" y2="610.60" stroke="#767978" stroke-width="1.1"/>
<line x1="446.50" y1="521.50" x2="446.50" y2="610.60" stroke="#767978" stroke-width="1.1"/>
<line x1="491.50" y1="521.50" x2="491.50" y2="610.60" stroke="#767978" stroke-width="1.1"/>
<line x1="539.70" y1="521.50" x2="539.70" y2="610.60" stroke="#767978" stroke-width="1.1"/>
<line x1="599.20" y1="521.50" x2="599.20" y2="610.60" stroke="#767978" stroke-width="1.1"/>
<line x1="666.20" y1="521.50" x2="666.20" y2="610.60" stroke="#767978" stroke-width="1.1"/>
<text x="456.19" y="536.00" font-size="12.30" textLength="25.61" lengthAdjust="spacingAndGlyphs" fill="#2b2a29">Motor</text>
<text x="465.10" y="549.30" font-size="12.30" textLength="7.79" lengthAdjust="spacingAndGlyphs" fill="#2b2a29">Ø</text>
<text x="503.07" y="536.00" font-size="12.30" textLength="25.06" lengthAdjust="spacingAndGlyphs" fill="#2b2a29">Dreh-</text>
<text x="497.50" y="549.30" font-size="12.30" textLength="36.20" lengthAdjust="spacingAndGlyphs" fill="#2b2a29">moment</text>
<text x="554.13" y="536.00" font-size="12.30" textLength="30.64" lengthAdjust="spacingAndGlyphs" fill="#2b2a29">Anzahl</text>
<text x="557.48" y="549.30" font-size="12.30" textLength="23.94" lengthAdjust="spacingAndGlyphs" fill="#2b2a29">Arme</text>
<text x="617.67" y="536.00" font-size="12.30" textLength="30.07" lengthAdjust="spacingAndGlyphs" fill="#2b2a29">Ausfall</text>
<text x="611.82" y="549.30" font-size="12.30" textLength="41.77" lengthAdjust="spacingAndGlyphs" fill="#2b2a29">in Metern</text>
<text x="454.08" y="568.80" font-size="12.30" textLength="29.85" lengthAdjust="spacingAndGlyphs" fill="#2b2a29">45 mm</text>
<text x="501.15" y="568.80" font-size="12.30" textLength="28.90" lengthAdjust="spacingAndGlyphs" font-weight="bold" fill="#2b2a29">20 Nm</text>
<text x="566.66" y="568.80" font-size="12.30" textLength="5.57" lengthAdjust="spacingAndGlyphs" fill="#2b2a29">2</text>
<text x="612.37" y="568.80" font-size="12.30" textLength="40.65" lengthAdjust="spacingAndGlyphs" fill="#2b2a29">bis 2,5 m</text>
<text x="454.08" y="587.15" font-size="12.30" textLength="29.85" lengthAdjust="spacingAndGlyphs" fill="#2b2a29">45 mm</text>
<text x="501.15" y="587.15" font-size="12.30" textLength="28.90" lengthAdjust="spacingAndGlyphs" font-weight="bold" fill="#2b2a29">40 Nm</text>
<text x="559.70" y="587.15" font-size="12.30" textLength="19.50" lengthAdjust="spacingAndGlyphs" fill="#2b2a29">2 / 3</text>
<text x="612.37" y="587.15" font-size="12.30" textLength="40.65" lengthAdjust="spacingAndGlyphs" fill="#2b2a29">bis 4,0 m</text>
<text x="454.08" y="605.85" font-size="12.30" textLength="29.85" lengthAdjust="spacingAndGlyphs" fill="#2b2a29">45 mm</text>
<text x="501.15" y="605.85" font-size="12.30" textLength="28.90" lengthAdjust="spacingAndGlyphs" font-weight="bold" fill="#2b2a29">50 Nm</text>
<text x="566.66" y="605.85" font-size="12.30" textLength="5.57" lengthAdjust="spacingAndGlyphs" fill="#2b2a29">4</text>
<text x="612.37" y="605.85" font-size="12.30" textLength="40.65" lengthAdjust="spacingAndGlyphs" fill="#2b2a29">bis 4,0 m</text>
<text x="16.30" y="784.80" font-size="7.20" textLength="4.00" lengthAdjust="spacingAndGlyphs" font-weight="bold" fill="#d6202f" stroke="#d6202f" stroke-width="0.3">1</text>
<text x="22.80" y="789.60" font-size="10.40" textLength="577.20" lengthAdjust="spacingAndGlyphs" fill="#333335">Berechnungsgrundlage ohne Kenntnis der Einbausituation. Diese Angaben gelten lediglich als Richtwerte zur Abschätzung der</text>
<text x="22.80" y="802.60" font-size="10.40" textLength="585.20" lengthAdjust="spacingAndGlyphs" fill="#333335">erforderlichen Motorstärke. Bei Rollladen kann je nach Wellendurchmesser, Profilgewicht, Rollladenhöhen und Gängigkeit in den</text>
<text x="22.80" y="815.30" font-size="10.40" textLength="610.70" lengthAdjust="spacingAndGlyphs" fill="#333335">Führungsleisten, die Zugleistung in kg und m² variieren. Unterschiedliche Konstruktions- und Ausführungsmerkmale von Markisen, wie</text>
<text x="22.80" y="828.20" font-size="10.40" textLength="621.30" lengthAdjust="spacingAndGlyphs" fill="#333335">Anzahl, Federkraft und Gewicht der Arme, Neigungswinkel und Ausfall in Metern, Durchmesser des Nutrohres, einfache oder gekoppelte</text>
<text x="22.80" y="841.40" font-size="10.40" textLength="572.20" lengthAdjust="spacingAndGlyphs" fill="#333335">Anlage, Tuchart und Tuchgewicht, erlauben ebenso nur eine Abschätzung der erforderlichen Drehmomente und Motorstärken.</text>
</svg>
</body></html>
